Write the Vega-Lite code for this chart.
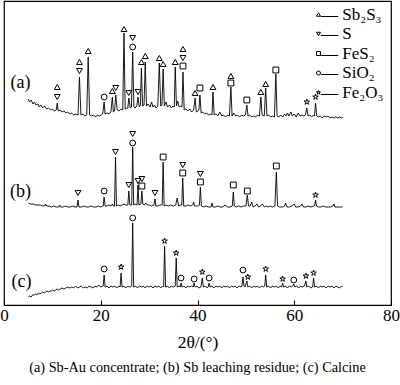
{
"$schema": "https://vega.github.io/schema/vega-lite/v6.json",
"width": 387, "height": 304,
"autosize": {"type": "none"},
"padding": {"left": 4, "top": 1, "right": 9, "bottom": 80},
"config": {"view": {"stroke": "black", "strokeWidth": 1.2}, "font": "Liberation Serif"},
"title": {"text": "(a) Sb-Au concentrate; (b) Sb leaching residue; (c) Calcine", "orient": "bottom", "anchor": "middle", "fontSize": 14.3, "fontWeight": "normal", "color": "black", "offset": 10},
"datasets": {
"a": [{"x":5.0,"y":206},{"x":5.3,"y":203},{"x":5.6,"y":205},{"x":6.0,"y":201},{"x":6.3,"y":203},{"x":6.6,"y":200},{"x":7.0,"y":201},{"x":7.3,"y":198},{"x":7.6,"y":200},{"x":8.0,"y":197},{"x":8.4,"y":199},{"x":8.8,"y":196},{"x":9.2,"y":197},{"x":9.6,"y":195},{"x":10.0,"y":196},{"x":10.4,"y":194},{"x":10.8,"y":195},{"x":11.0,"y":202},{"x":11.2,"y":194},{"x":11.6,"y":195},{"x":12.0,"y":193},{"x":12.4,"y":194},{"x":12.8,"y":192},{"x":13.2,"y":193},{"x":13.6,"y":191},{"x":14.0,"y":192},{"x":14.4,"y":190},{"x":14.8,"y":191},{"x":15.3,"y":190},{"x":15.6,"y":228},{"x":15.9,"y":190},{"x":16.3,"y":191},{"x":16.7,"y":189},{"x":17.1,"y":190},{"x":17.4,"y":248},{"x":17.7,"y":190},{"x":18.1,"y":189},{"x":18.5,"y":190},{"x":18.9,"y":188},{"x":19.3,"y":190},{"x":19.7,"y":189},{"x":20.1,"y":190},{"x":20.4,"y":191},{"x":20.7,"y":203},{"x":20.9,"y":191},{"x":21.3,"y":192},{"x":21.7,"y":191},{"x":22.1,"y":193},{"x":22.4,"y":208},{"x":22.6,"y":193},{"x":22.85,"y":194},{"x":23.1,"y":210},{"x":23.4,"y":195},{"x":23.8,"y":194},{"x":24.2,"y":196},{"x":24.55,"y":195},{"x":24.8,"y":272},{"x":25.05,"y":196},{"x":25.4,"y":197},{"x":25.6,"y":197},{"x":25.8,"y":207},{"x":26.1,"y":197},{"x":26.35,"y":198},{"x":26.6,"y":253},{"x":26.85,"y":198},{"x":27.1,"y":197},{"x":27.45,"y":199},{"x":27.7,"y":208},{"x":27.95,"y":198},{"x":28.2,"y":200},{"x":28.4,"y":237},{"x":28.65,"y":199},{"x":28.95,"y":200},{"x":29.2,"y":243},{"x":29.45,"y":199},{"x":29.8,"y":201},{"x":30.2,"y":198},{"x":30.5,"y":203},{"x":30.8,"y":198},{"x":31.1,"y":200},{"x":31.4,"y":197},{"x":31.8,"y":199},{"x":32.1,"y":242},{"x":32.4,"y":199},{"x":32.65,"y":200},{"x":32.9,"y":236},{"x":33.15,"y":199},{"x":33.5,"y":203},{"x":33.8,"y":198},{"x":34.2,"y":200},{"x":34.6,"y":197},{"x":35.0,"y":199},{"x":35.2,"y":198},{"x":35.4,"y":238},{"x":35.65,"y":199},{"x":35.9,"y":204},{"x":36.2,"y":198},{"x":36.5,"y":199},{"x":36.8,"y":198},{"x":37.0,"y":233},{"x":37.25,"y":195},{"x":37.6,"y":196},{"x":38.0,"y":194},{"x":38.4,"y":196},{"x":38.8,"y":193},{"x":39.2,"y":195},{"x":39.5,"y":207},{"x":39.75,"y":193},{"x":40.1,"y":194},{"x":40.3,"y":195},{"x":40.5,"y":210},{"x":40.75,"y":192},{"x":41.1,"y":193},{"x":41.5,"y":191},{"x":41.9,"y":192},{"x":42.3,"y":190},{"x":42.7,"y":191},{"x":43.0,"y":190},{"x":43.2,"y":213},{"x":43.45,"y":190},{"x":43.8,"y":191},{"x":44.2,"y":189},{"x":44.6,"y":193},{"x":45.0,"y":189},{"x":45.4,"y":190},{"x":45.8,"y":188},{"x":46.2,"y":190},{"x":46.6,"y":189},{"x":46.9,"y":218},{"x":47.15,"y":189},{"x":47.5,"y":192},{"x":47.9,"y":189},{"x":48.3,"y":190},{"x":48.7,"y":188},{"x":49.1,"y":190},{"x":49.5,"y":189},{"x":49.9,"y":190},{"x":50.2,"y":200},{"x":50.45,"y":189},{"x":50.8,"y":190},{"x":51.2,"y":188},{"x":51.6,"y":189},{"x":52.0,"y":188},{"x":52.4,"y":190},{"x":52.8,"y":189},{"x":53.1,"y":208},{"x":53.35,"y":190},{"x":53.8,"y":189},{"x":54.1,"y":217},{"x":54.35,"y":189},{"x":54.7,"y":190},{"x":55.1,"y":188},{"x":55.5,"y":189},{"x":55.9,"y":188},{"x":56.2,"y":231},{"x":56.45,"y":189},{"x":56.8,"y":188},{"x":57.2,"y":190},{"x":57.6,"y":188},{"x":58.0,"y":191},{"x":58.3,"y":189},{"x":58.6,"y":192},{"x":58.9,"y":189},{"x":59.3,"y":193},{"x":59.6,"y":189},{"x":60.0,"y":191},{"x":60.4,"y":188},{"x":60.8,"y":192},{"x":61.2,"y":189},{"x":61.6,"y":190},{"x":62.0,"y":189},{"x":62.3,"y":190},{"x":62.6,"y":197},{"x":62.85,"y":189},{"x":63.2,"y":190},{"x":63.6,"y":188},{"x":64.0,"y":190},{"x":64.2,"y":189},{"x":64.4,"y":202},{"x":64.65,"y":189},{"x":65.0,"y":188},{"x":65.4,"y":189},{"x":65.8,"y":187},{"x":66.2,"y":189},{"x":66.6,"y":188},{"x":67.0,"y":189},{"x":67.4,"y":187},{"x":67.8,"y":188},{"x":68.2,"y":187},{"x":68.6,"y":188},{"x":69.0,"y":187},{"x":69.4,"y":188},{"x":69.8,"y":187},{"x":70.0,"y":188}],
"b": [{"x":5.0,"y":102},{"x":5.5,"y":101},{"x":6.0,"y":101},{"x":6.5,"y":100},{"x":7.0,"y":100},{"x":7.5,"y":100},{"x":8.0,"y":99},{"x":8.4,"y":99},{"x":8.6,"y":101},{"x":8.8,"y":99},{"x":9.3,"y":99},{"x":9.8,"y":98},{"x":10.3,"y":99},{"x":10.8,"y":98},{"x":11.3,"y":98},{"x":11.5,"y":100},{"x":11.7,"y":98},{"x":12.2,"y":98},{"x":12.7,"y":99},{"x":13.2,"y":98},{"x":13.7,"y":98},{"x":14.2,"y":99},{"x":14.7,"y":98},{"x":15.1,"y":98},{"x":15.3,"y":105},{"x":15.5,"y":98},{"x":16.0,"y":98},{"x":16.5,"y":99},{"x":17.0,"y":98},{"x":17.5,"y":98},{"x":18.0,"y":99},{"x":18.5,"y":98},{"x":19.0,"y":98},{"x":19.5,"y":99},{"x":20.0,"y":98},{"x":20.5,"y":99},{"x":20.7,"y":108},{"x":20.9,"y":99},{"x":21.3,"y":99},{"x":21.7,"y":100},{"x":22.1,"y":99},{"x":22.4,"y":101},{"x":22.6,"y":99},{"x":22.85,"y":99},{"x":23.05,"y":148},{"x":23.25,"y":99},{"x":23.6,"y":100},{"x":24.0,"y":99},{"x":24.4,"y":100},{"x":24.8,"y":101},{"x":25.1,"y":100},{"x":25.6,"y":100},{"x":25.8,"y":114},{"x":26.0,"y":100},{"x":26.4,"y":100},{"x":26.6,"y":158},{"x":26.8,"y":100},{"x":27.1,"y":101},{"x":27.5,"y":100},{"x":27.7,"y":120},{"x":27.9,"y":100},{"x":28.3,"y":101},{"x":28.5,"y":114},{"x":28.7,"y":101},{"x":29.0,"y":100},{"x":29.3,"y":102},{"x":29.6,"y":100},{"x":30.0,"y":100},{"x":30.5,"y":99},{"x":31.0,"y":100},{"x":31.2,"y":106},{"x":31.4,"y":99},{"x":31.8,"y":99},{"x":32.2,"y":100},{"x":32.7,"y":100},{"x":32.9,"y":143},{"x":33.1,"y":99},{"x":33.5,"y":100},{"x":34.0,"y":99},{"x":34.5,"y":100},{"x":35.0,"y":99},{"x":35.5,"y":100},{"x":35.8,"y":107},{"x":36.1,"y":99},{"x":36.5,"y":100},{"x":36.75,"y":100},{"x":36.95,"y":127},{"x":37.15,"y":99},{"x":37.6,"y":99},{"x":38.0,"y":100},{"x":38.5,"y":99},{"x":39.0,"y":100},{"x":39.2,"y":103},{"x":39.4,"y":99},{"x":39.8,"y":99},{"x":40.2,"y":99},{"x":40.4,"y":100},{"x":40.6,"y":118},{"x":40.8,"y":99},{"x":41.3,"y":98},{"x":41.8,"y":99},{"x":42.3,"y":98},{"x":42.8,"y":98},{"x":43.0,"y":102},{"x":43.2,"y":98},{"x":43.7,"y":98},{"x":44.2,"y":99},{"x":44.7,"y":98},{"x":45.2,"y":98},{"x":45.7,"y":100},{"x":46.2,"y":98},{"x":46.7,"y":98},{"x":47.2,"y":99},{"x":47.4,"y":113},{"x":47.6,"y":99},{"x":48.0,"y":98},{"x":48.5,"y":99},{"x":49.0,"y":98},{"x":49.5,"y":99},{"x":50.0,"y":99},{"x":50.3,"y":110},{"x":50.55,"y":99},{"x":50.9,"y":99},{"x":51.2,"y":103},{"x":51.5,"y":98},{"x":51.9,"y":99},{"x":52.3,"y":101},{"x":52.6,"y":98},{"x":53.0,"y":99},{"x":53.4,"y":101},{"x":53.8,"y":98},{"x":54.2,"y":99},{"x":54.6,"y":98},{"x":55.0,"y":99},{"x":55.5,"y":98},{"x":56.0,"y":99},{"x":56.3,"y":133},{"x":56.55,"y":99},{"x":57.0,"y":98},{"x":57.5,"y":98},{"x":58.0,"y":99},{"x":58.2,"y":102},{"x":58.5,"y":98},{"x":59.0,"y":98},{"x":59.5,"y":99},{"x":60.0,"y":101},{"x":60.3,"y":98},{"x":60.8,"y":98},{"x":61.3,"y":99},{"x":61.6,"y":101},{"x":61.9,"y":98},{"x":62.4,"y":98},{"x":62.9,"y":99},{"x":63.4,"y":98},{"x":63.9,"y":99},{"x":64.2,"y":99},{"x":64.4,"y":105},{"x":64.6,"y":99},{"x":65.0,"y":98},{"x":65.5,"y":98},{"x":66.0,"y":99},{"x":66.5,"y":98},{"x":67.0,"y":98},{"x":67.5,"y":98},{"x":68.0,"y":99},{"x":68.2,"y":101},{"x":68.4,"y":98},{"x":69.0,"y":98},{"x":69.5,"y":98},{"x":70.0,"y":98}],
"c": [{"x":5.0,"y":8},{"x":5.3,"y":9},{"x":5.6,"y":8},{"x":5.9,"y":10},{"x":6.2,"y":10},{"x":6.5,"y":11},{"x":6.8,"y":10},{"x":7.1,"y":12},{"x":7.4,"y":11},{"x":7.7,"y":12},{"x":8.0,"y":13},{"x":8.3,"y":12},{"x":8.6,"y":13},{"x":8.9,"y":14},{"x":9.2,"y":13},{"x":9.5,"y":14},{"x":9.8,"y":14},{"x":10.1,"y":15},{"x":10.4,"y":14},{"x":10.7,"y":15},{"x":11.0,"y":16},{"x":11.3,"y":15},{"x":11.6,"y":16},{"x":12.0,"y":17},{"x":12.4,"y":16},{"x":12.8,"y":17},{"x":13.2,"y":18},{"x":13.6,"y":17},{"x":14.0,"y":18},{"x":14.4,"y":17},{"x":14.8,"y":19},{"x":15.2,"y":17},{"x":15.6,"y":18},{"x":16.0,"y":19},{"x":16.4,"y":17},{"x":16.8,"y":18},{"x":17.2,"y":17},{"x":17.6,"y":19},{"x":18.0,"y":18},{"x":18.4,"y":17},{"x":18.8,"y":19},{"x":19.2,"y":18},{"x":19.6,"y":20},{"x":20.0,"y":18},{"x":20.5,"y":19},{"x":20.7,"y":30},{"x":20.9,"y":18},{"x":21.3,"y":19},{"x":21.7,"y":17},{"x":22.1,"y":19},{"x":22.5,"y":18},{"x":22.9,"y":19},{"x":23.3,"y":17},{"x":23.7,"y":19},{"x":24.0,"y":18},{"x":24.2,"y":32},{"x":24.4,"y":18},{"x":24.8,"y":19},{"x":25.2,"y":17},{"x":25.6,"y":19},{"x":26.0,"y":18},{"x":26.4,"y":19},{"x":26.6,"y":82},{"x":26.8,"y":18},{"x":27.2,"y":19},{"x":27.6,"y":17},{"x":28.0,"y":19},{"x":28.4,"y":18},{"x":28.8,"y":19},{"x":29.2,"y":17},{"x":29.6,"y":19},{"x":30.0,"y":18},{"x":30.4,"y":19},{"x":30.8,"y":17},{"x":31.2,"y":19},{"x":31.6,"y":18},{"x":32.0,"y":19},{"x":32.4,"y":17},{"x":32.8,"y":19},{"x":33.0,"y":18},{"x":33.2,"y":59},{"x":33.4,"y":18},{"x":33.8,"y":19},{"x":34.2,"y":17},{"x":34.6,"y":19},{"x":35.0,"y":18},{"x":35.4,"y":19},{"x":35.6,"y":47},{"x":35.8,"y":18},{"x":36.2,"y":19},{"x":36.45,"y":18},{"x":36.6,"y":22},{"x":36.8,"y":18},{"x":37.2,"y":19},{"x":37.6,"y":17},{"x":38.0,"y":19},{"x":38.4,"y":18},{"x":38.8,"y":19},{"x":39.1,"y":18},{"x":39.3,"y":22},{"x":39.5,"y":18},{"x":39.9,"y":19},{"x":40.3,"y":17},{"x":40.7,"y":18},{"x":41.0,"y":27},{"x":41.2,"y":18},{"x":41.6,"y":19},{"x":42.0,"y":17},{"x":42.2,"y":18},{"x":42.4,"y":22},{"x":42.6,"y":18},{"x":43.0,"y":19},{"x":43.4,"y":17},{"x":43.8,"y":19},{"x":44.2,"y":18},{"x":44.6,"y":19},{"x":45.0,"y":17},{"x":45.4,"y":19},{"x":45.8,"y":18},{"x":46.2,"y":19},{"x":46.6,"y":17},{"x":47.0,"y":19},{"x":47.4,"y":18},{"x":47.8,"y":19},{"x":48.2,"y":17},{"x":48.6,"y":19},{"x":49.0,"y":18},{"x":49.2,"y":19},{"x":49.4,"y":28},{"x":49.6,"y":19},{"x":49.8,"y":18},{"x":50.2,"y":24},{"x":50.4,"y":18},{"x":50.8,"y":19},{"x":51.2,"y":17},{"x":51.6,"y":19},{"x":52.0,"y":18},{"x":52.4,"y":19},{"x":52.8,"y":17},{"x":53.2,"y":19},{"x":53.6,"y":18},{"x":53.9,"y":19},{"x":54.1,"y":30},{"x":54.3,"y":18},{"x":54.7,"y":19},{"x":55.1,"y":17},{"x":55.5,"y":19},{"x":55.9,"y":18},{"x":56.3,"y":19},{"x":56.7,"y":17},{"x":57.1,"y":19},{"x":57.4,"y":18},{"x":57.6,"y":22},{"x":57.8,"y":18},{"x":58.2,"y":19},{"x":58.6,"y":17},{"x":59.0,"y":19},{"x":59.4,"y":18},{"x":59.7,"y":19},{"x":59.9,"y":21},{"x":60.1,"y":18},{"x":60.5,"y":19},{"x":60.9,"y":17},{"x":61.3,"y":19},{"x":61.7,"y":18},{"x":62.1,"y":19},{"x":62.4,"y":24},{"x":62.6,"y":18},{"x":63.0,"y":19},{"x":63.4,"y":17},{"x":63.8,"y":18},{"x":64.0,"y":27},{"x":64.2,"y":18},{"x":64.6,"y":19},{"x":65.0,"y":17},{"x":65.4,"y":19},{"x":65.8,"y":18},{"x":66.2,"y":19},{"x":66.6,"y":17},{"x":67.0,"y":19},{"x":67.4,"y":18},{"x":67.8,"y":19},{"x":68.2,"y":17},{"x":68.6,"y":19},{"x":69.0,"y":18},{"x":69.4,"y":17},{"x":69.8,"y":19},{"x":70.0,"y":18}],
"m": [
{"x":11.0,"y":218,"p":"Sb₂S₃"},{"x":11.0,"y":208,"p":"S"},
{"x":15.6,"y":243,"p":"Sb₂S₃"},{"x":15.6,"y":234,"p":"S"},
{"x":17.4,"y":254,"p":"Sb₂S₃"},
{"x":20.7,"y":208,"p":"SiO₂"},
{"x":22.4,"y":214,"p":"Sb₂S₃"},
{"x":23.1,"y":217,"p":"S"},
{"x":24.8,"y":276,"p":"Sb₂S₃"},
{"x":25.8,"y":212,"p":"S"},
{"x":26.6,"y":267,"p":"S"},{"x":26.6,"y":258,"p":"SiO₂"},
{"x":27.7,"y":213,"p":"S"},
{"x":28.4,"y":243,"p":"Sb₂S₃"},
{"x":29.2,"y":249,"p":"Sb₂S₃"},
{"x":32.1,"y":247,"p":"Sb₂S₃"},
{"x":32.9,"y":241,"p":"Sb₂S₃"},
{"x":35.4,"y":243,"p":"Sb₂S₃"},
{"x":37.0,"y":256,"p":"Sb₂S₃"},{"x":37.0,"y":247,"p":"S"},{"x":37.0,"y":239,"p":"FeS₂"},
{"x":39.5,"y":212,"p":"Sb₂S₃"},
{"x":40.5,"y":217,"p":"FeS₂"},
{"x":43.2,"y":218,"p":"Sb₂S₃"},
{"x":46.9,"y":229,"p":"Sb₂S₃"},{"x":46.9,"y":222,"p":"FeS₂"},
{"x":50.2,"y":205,"p":"FeS₂"},
{"x":53.1,"y":213,"p":"Sb₂S₃"},
{"x":54.1,"y":221,"p":"Sb₂S₃"},
{"x":56.2,"y":235,"p":"FeS₂"},
{"x":62.6,"y":203,"p":"Fe₂O₃"},
{"x":64.4,"y":208,"p":"Fe₂O₃"},
{"x":15.3,"y":112,"p":"S"},
{"x":20.7,"y":114,"p":"SiO₂"},
{"x":23.05,"y":153,"p":"S"},
{"x":25.8,"y":120,"p":"S"},
{"x":26.6,"y":171,"p":"S"},{"x":26.6,"y":162,"p":"SiO₂"},
{"x":27.7,"y":124,"p":"S"},
{"x":28.5,"y":126,"p":"S"},{"x":28.5,"y":119,"p":"FeS₂"},
{"x":31.2,"y":112,"p":"S"},
{"x":32.9,"y":148,"p":"FeS₂"},
{"x":36.95,"y":140,"p":"S"},{"x":36.95,"y":132,"p":"FeS₂"},
{"x":40.6,"y":131,"p":"S"},{"x":40.6,"y":123,"p":"FeS₂"},
{"x":47.4,"y":120,"p":"FeS₂"},
{"x":50.3,"y":114,"p":"FeS₂"},
{"x":56.3,"y":139,"p":"FeS₂"},
{"x":64.4,"y":110,"p":"Fe₂O₃"},
{"x":20.7,"y":36,"p":"SiO₂"},
{"x":24.2,"y":38,"p":"Fe₂O₃"},
{"x":26.6,"y":87,"p":"SiO₂"},
{"x":33.2,"y":64,"p":"Fe₂O₃"},
{"x":35.6,"y":52,"p":"Fe₂O₃"},
{"x":36.6,"y":27,"p":"SiO₂"},
{"x":39.3,"y":26,"p":"SiO₂"},
{"x":41.0,"y":33,"p":"Fe₂O₃"},
{"x":42.4,"y":27,"p":"SiO₂"},
{"x":49.4,"y":35,"p":"SiO₂"},
{"x":50.4,"y":28,"p":"Fe₂O₃"},
{"x":54.1,"y":36,"p":"Fe₂O₃"},
{"x":57.6,"y":26,"p":"Fe₂O₃"},
{"x":59.9,"y":25,"p":"SiO₂"},
{"x":62.4,"y":29,"p":"Fe₂O₃"},
{"x":64.0,"y":32,"p":"Fe₂O₃"}
],
"t": [{"x":3.4,"y":222,"t":"(a)"},{"x":3.4,"y":113,"t":"(b)"},{"x":3.6,"y":23,"t":"(c)"}]
},
"encoding": {
"x": {"field": "x", "type": "quantitative", "scale": {"domain": [0, 80], "nice": false},
  "axis": {"title": "2θ/(°)", "values": [0, 20, 40, 60, 80], "tickSize": -5, "tickColor": "black", "tickWidth": 1, "domain": false, "grid": false, "labelFontSize": 17, "labelColor": "black", "labelPadding": 7, "labelFlush": false, "titleFontSize": 17.5, "titleFontWeight": "normal", "titleColor": "black", "titlePadding": 10}},
"y": {"field": "y", "type": "quantitative", "scale": {"domain": [0, 304], "nice": false}, "axis": null}
},
"layer": [
{"data": {"name": "a"}, "mark": {"type": "line", "color": "black", "strokeWidth": 0.9}},
{"data": {"name": "b"}, "mark": {"type": "line", "color": "black", "strokeWidth": 0.9}},
{"data": {"name": "c"}, "mark": {"type": "line", "color": "black", "strokeWidth": 0.9}},
{"data": {"name": "m"}, "mark": {"type": "point", "filled": false, "color": "black", "strokeWidth": 1, "size": 34, "opacity": 1},
 "encoding": {"shape": {"field": "p", "type": "nominal",
   "scale": {"domain": ["Sb₂S₃", "S", "FeS₂", "SiO₂", "Fe₂O₃"], "range": ["triangle-up", "triangle-down", "square", "circle", "M0,-1L0.225,-0.309L0.951,-0.309L0.363,0.118L0.588,0.809L0,0.382L-0.588,0.809L-0.363,0.118L-0.951,-0.309L-0.225,-0.309Z"]},
   "legend": {"orient": "none", "legendX": 306, "legendY": 5, "title": null, "padding": 0, "labelFontSize": 17, "labelFont": "Liberation Serif", "labelColor": "black", "labelExpr": "'— ' + datum.label", "symbolSize": 16, "symbolStrokeWidth": 1, "symbolStrokeColor": "black", "symbolFillColor": "transparent", "labelOffset": -6, "rowPadding": 1.5}}}},
{"data": {"name": "t"}, "mark": {"type": "text", "fontSize": 18, "color": "black", "align": "center", "baseline": "middle"}, "encoding": {"text": {"field": "t"}}}
]
}
